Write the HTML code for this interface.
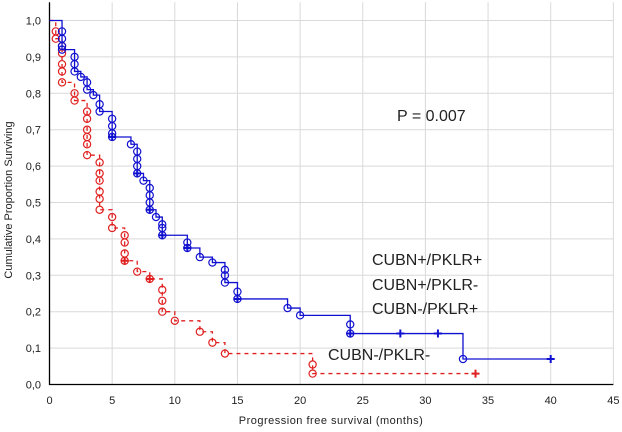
<!DOCTYPE html>
<html><head><meta charset="utf-8"><style>
body{margin:0;background:#fff}
svg{display:block;font-family:"Liberation Sans",sans-serif}
</style></head><body>
<svg id="c" width="622" height="432"></svg>
<script>
const xTicks=[0,5,10,15,20,25,30,35,40,45];
const yTicks=[0,0.1,0.2,0.3,0.4,0.5,0.6,0.7,0.8,0.9,1.0];
const yTickLabels=["0,0","0,1","0,2","0,3","0,4","0,5","0,6","0,7","0,8","0,9","1,0"];
const blueTimes=[1,1,1,1,2,2,2,2.5,3,3,3.5,4,4,5,5,5,5,6.5,7,7,7,7,7.5,8,8,8,8,8.5,9,9,9,11,11,12,13,14,14,14,15,15,19,20,24,24,33];
const blueSurv=[0.97,0.95,0.93,0.92,0.90,0.88,0.86,0.845,0.83,0.81,0.795,0.77,0.75,0.73,0.71,0.69,0.68,0.66,0.64,0.62,0.60,0.58,0.56,0.54,0.52,0.50,0.48,0.46,0.44,0.43,0.41,0.39,0.375,0.35,0.335,0.315,0.30,0.28,0.255,0.235,0.21,0.19,0.165,0.14,0.07];
const blueEnd=40;
const blueCensT=[5,7,8,9,11,15,24,28,31,40];
const blueCensS=[0.68,0.58,0.48,0.41,0.375,0.235,0.14,0.14,0.14,0.07];
const redTimes=[0.5,0.5,1,1,1,1,1,2,2,3,3,3,3,3,3,4,4,4,4,4,4,5,5,6,6,6,6,7,8,9,9,9,10,12,13,14,21,21];
const redSurv=[0.97,0.95,0.93,0.91,0.88,0.86,0.83,0.80,0.78,0.75,0.73,0.70,0.68,0.66,0.63,0.61,0.58,0.56,0.53,0.51,0.48,0.46,0.43,0.41,0.39,0.36,0.34,0.31,0.29,0.26,0.23,0.20,0.175,0.145,0.115,0.085,0.055,0.03];
const redEnd=34;
const redCensT=[6,8,34];
const redCensS=[0.34,0.29,0.03];

const NS="http://www.w3.org/2000/svg";
const svg=document.getElementById('c');
const X=t=>49.5+t*12.53;
const Y=s=>384.5-s*364;
function el(tag,a,parent){const e=document.createElementNS(NS,tag);for(const k in a)e.setAttribute(k,a[k]);(parent||svg).appendChild(e);return e;}

// grid
xTicks.forEach(t=>{if(t>0){const g=el('line',{x1:X(t),x2:X(t),y1:Y(1.05),y2:Y(0),stroke:'#d9d9d9','stroke-width':1});

}
const tl=el('text',{x:X(t),y:404,'text-anchor':'middle','font-size':11,fill:'#222'});tl.textContent=t;

});
yTicks.forEach((v,i)=>{if(v>0){const g=el('line',{x1:X(0),x2:X(45),y1:Y(v),y2:Y(v),stroke:'#d9d9d9','stroke-width':1});

}
const tl=el('text',{x:41,y:Y(v)+4,'text-anchor':'end','font-size':11,fill:'#222'});tl.textContent=yTickLabels[i];

});
const ax=el('path',{d:`M${X(0)},${Y(1.05)}V${Y(0)}H${X(45)}`,fill:'none',stroke:'#000','stroke-width':1.3});



function series(times,surv,end,ct,cs,color,dash,name){
  let d=`M${X(0)},${Y(1)}`;let s=1;
  times.forEach((t,i)=>{d+=`H${X(t)}V${Y(surv[i])}`;});
  d+=`H${X(end)}`;
  const p=el('path',{d:d,fill:'none',stroke:color,'stroke-width':1.3,'stroke-dasharray':dash});
  
  
  times.forEach((t,i)=>{const c=el('circle',{cx:X(t),cy:Y(surv[i]),r:3.6,fill:'none',stroke:color,'stroke-width':1.2});
  
  });
  ct.forEach((t,i)=>{const m=el('path',{d:`M${X(t)-4},${Y(cs[i])}h8M${X(t)},${Y(cs[i])-4}v8`,stroke:color,'stroke-width':2});
  
  });
}
series(redTimes,redSurv,redEnd,redCensT,redCensS,'#e02020','4,4','red-series');
series(blueTimes,blueSurv,blueEnd,blueCensT,blueCensS,'#1010d0','','blue-series');

function txt(x,y,s,size,name,extra){const t=el('text',Object.assign({x:x,y:y,'font-size':size,fill:'#222'},extra||{}));t.textContent=s;

return t;}
txt(397,121,'P = 0.007',16,'p-value');
txt(372,265,'CUBN+/PKLR+',16,'legend-label-1');
txt(372,290,'CUBN+/PKLR-',16,'legend-label-2');
txt(372,314,'CUBN-/PKLR+',16,'legend-label-3');
txt(328,360,'CUBN-/PKLR-',16,'legend-label-4');
txt(331,424,'Progression free survival (months)',11,'x-axis-title',{'text-anchor':'middle','letter-spacing':'0.5'});
txt(0,0,'Cumulative Proportion Surviving',11,'y-axis-title',{'text-anchor':'middle',transform:'translate(12,200) rotate(-90)'});
</script>
</body></html>
